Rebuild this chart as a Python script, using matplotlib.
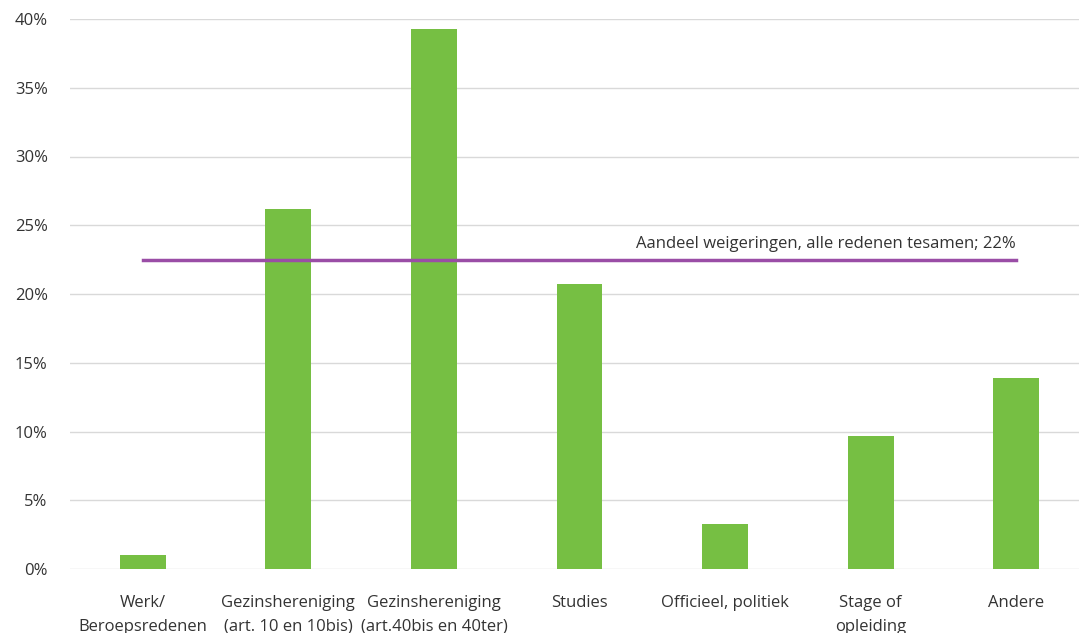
import matplotlib.pyplot as plt

categories = ["Werk/\nBeroepsredenen",
              "Gezinshereniging\n(art. 10 en 10bis)",
              "Gezinshereniging\n(art.40bis en 40ter)",
              "Studies",
              "Officieel, politiek",
              "Stage of\nopleiding",
              "Andere"]
refusal_pct = [1.0, 26.2, 39.3, 20.7, 3.3, 9.7, 13.9]
overall_pct = 22.45
yticks = [0, 5, 10, 15, 20, 25, 30, 35, 40]

plt.rcParams['font.family'] = ['Open Sans', 'DejaVu Sans']
text_color = "#333333"

fig = plt.figure(figsize=(10.79, 6.33), dpi=100)
ax = fig.add_axes([70 / 1079, 64 / 633, 1019 / 1079, 550 / 633])

x = range(len(categories))
ax.bar(x, refusal_pct, width=0.315, color="#76BF43", zorder=3)

# average over all reasons
ax.plot([0, len(categories) - 1], [overall_pct, overall_pct],
        color="#9A4DA6", linewidth=2.5, zorder=4)
ax.text(len(categories) - 1, overall_pct + 0.6,
        "Aandeel weigeringen, alle redenen tesamen; %.0f%%" % overall_pct,
        ha="right", va="bottom", fontsize=12, color=text_color, zorder=5)

ax.set_xlim(-0.5, len(categories) - 0.5)
ax.set_ylim(0, 40)
ax.set_yticks(yticks)
ax.set_yticklabels(["%d%%" % t for t in yticks])
ax.set_xticks(list(x))
ax.set_xticklabels(categories, linespacing=1.6)

ax.grid(axis="y", color="#d9d9d9", linewidth=1, zorder=0)
ax.set_axisbelow(True)
for s in ax.spines.values():
    s.set_visible(False)
ax.tick_params(axis="both", length=0, labelsize=12, colors=text_color)
ax.tick_params(axis="x", pad=19)
ax.tick_params(axis="y", pad=16)

fig.savefig("out.png", dpi=100)
